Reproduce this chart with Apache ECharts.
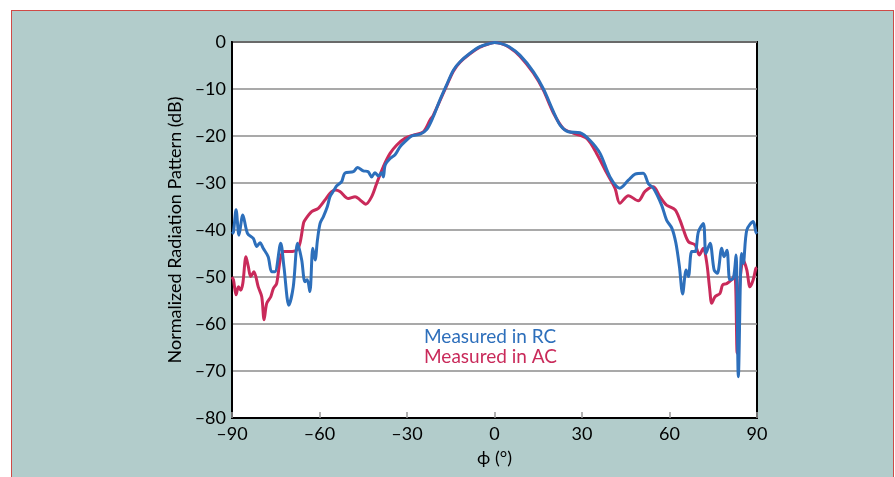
<!DOCTYPE html>
<html>
<head>
<meta charset="utf-8">
<script src="https://cdn.jsdelivr.net/npm/echarts@6/dist/echarts.min.js"></script>
<style>
    html, body { margin: 0; padding: 0; background: #fff; }
    #panel {
        position: absolute; left: 11px; top: 10px; width: 881px; height: 480px;
        background: #b2cccb; border: 1px solid #cf4a47; border-bottom: none;
    }
    #main { position: absolute; left: 0; top: 0; width: 895px; height: 477px; }
</style>
</head>
<body>
<div id="panel"></div>
<div id="main"></div>
<script>
    // measured in reverberation chamber (RC): [phi, dB]
    var rcData = [
        [-90,-40.8],[-89.5,-40.4],[-88.6,-35.7],[-87.6,-41.1],[-86.3,-36.8],[-84.7,-40.7],
        [-82.7,-41.8],[-81.5,-43.5],[-80.4,-42.7],[-79.3,-43.9],[-77.6,-45.7],[-76.4,-48.9],
        [-75.3,-48.9],[-73.3,-42.8],[-72.2,-47.8],[-70.5,-56.0],[-69.0,-52.1],[-67.5,-42.8],
        [-66.1,-46.4],[-65.0,-51.0],[-64.2,-50.6],[-63.3,-53.1],[-62.3,-43.9],[-61.5,-46.4],
        [-60.7,-42.1],[-59.8,-38.6],[-58.7,-37.2],[-57.3,-35.0],[-56.4,-32.9],[-55.0,-31.5],
        [-54.1,-30.6],[-52.4,-29.7],[-51.3,-27.9],[-48.4,-27.6],[-47.0,-26.7],[-45.0,-27.4],
        [-43.3,-27.6],[-42.1,-28.7],[-41.0,-27.8],[-39.8,-28.5],[-38.7,-27.8],[-38.1,-28.7],
        [-37.5,-26.2],[-35.8,-24.8],[-34.1,-24.0],[-32.4,-22.3],[-30.7,-21.2],[-28.4,-20.0],
        [-25.5,-19.6],[-23.2,-18.6],[-21.0,-15.9],[-18.7,-12.3],[-16.4,-9.1],[-14.1,-6.0],
        [-11.8,-4.2],[-8.4,-2.4],[-5.0,-1.0],[-1.5,-0.3],[0,-0.1],[2,-0.3],[5,-1.0],
        [8.7,-2.8],[13.3,-6.3],[16.7,-9.9],[20.2,-14.8],[22.5,-17.7],[25.3,-19.1],
        [29.3,-19.3],[32.7,-20.9],[36.2,-23.7],[39.6,-28.7],[43.0,-31.1],[45.9,-29.4],
        [48.2,-28.1],[51.0,-27.9],[52.8,-30.2],[54.5,-31.1],[57.3,-34.7],[59.0,-37.9],
        [60.8,-39.6],[62.2,-42.8],[63.4,-47.8],[64.5,-53.6],[65.7,-48.5],[66.5,-49.9],
        [67.6,-44.6],[68.8,-44.6],[69.9,-40.4],[71.6,-38.6],[72.5,-45.0],[73.9,-42.8],
        [75.3,-48.5],[76.4,-49.2],[77.9,-43.9],[78.7,-45.7],[79.7,-44.3],[80.7,-50.6],
        [81.9,-50.3],[82.8,-45.3],[83.6,-71.2],[84.7,-45.0],[85.3,-47.1],[86.5,-40.0],
        [88.7,-38.2],[89.6,-40.4],[90,-40.8]
    ];
    // measured in anechoic chamber (AC): [phi, dB]
    var acData = [
        [-90,-50.0],[-89.5,-50.6],[-88.6,-53.8],[-87.8,-52.1],[-87.0,-52.8],[-86.3,-51.4],
        [-85.2,-45.7],[-84.4,-47.8],[-83.6,-49.9],[-82.5,-48.9],[-81.0,-52.1],[-79.8,-54.2],
        [-79.0,-59.1],[-78.1,-55.6],[-76.7,-54.2],[-75.8,-52.4],[-74.7,-51.4],[-73.5,-46.4],
        [-72.4,-44.6],[-70.1,-44.6],[-67.8,-44.3],[-66.7,-42.8],[-65.5,-38.6],[-65.0,-37.9],
        [-62.7,-36.1],[-60.4,-35.4],[-58.1,-33.6],[-56.4,-32.2],[-54.7,-31.5],[-53.0,-31.8],
        [-50.1,-33.3],[-47.8,-32.9],[-46.1,-33.6],[-44.1,-34.5],[-42.1,-32.9],[-40.4,-30.1],
        [-38.1,-26.5],[-35.8,-23.7],[-33.5,-21.9],[-30.7,-20.5],[-27.8,-19.8],[-24.4,-19.1],
        [-22.1,-16.6],[-21.0,-15.6],[-18.7,-12.5],[-16.4,-9.3],[-14.1,-6.2],[-11.8,-4.3],
        [-8.4,-2.5],[-5.0,-1.1],[-1.5,-0.3],[0,-0.1],[2,-0.3],[5,-1.1],[8.7,-3.0],
        [13.3,-6.6],[16.7,-10.2],[20.2,-15.1],[23.6,-18.4],[27.0,-19.4],[31.6,-20.5],
        [35.0,-23.7],[38.5,-27.9],[41.3,-31.1],[43.0,-34.3],[45.9,-32.7],[49.3,-33.8],
        [51.6,-31.8],[54.5,-30.8],[56.7,-32.9],[59.0,-34.7],[61.9,-35.7],[63.6,-37.9],
        [64.8,-40.0],[66.5,-42.5],[68.8,-43.2],[70.2,-45.3],[71.6,-43.9],[72.8,-47.1],
        [73.7,-52.1],[74.5,-55.6],[75.6,-54.2],[77.3,-53.5],[78.2,-51.7],[79.6,-51.4],
        [81.3,-50.6],[82.4,-49.6],[83.2,-66.2],[84.1,-51.4],[85.3,-46.4],[86.5,-48.5],
        [87.6,-52.1],[88.7,-50.6],[89.6,-48.2],[90,-48.0]
    ];
    var seriesNames = ['Measured in RC', 'Measured in AC'];
    var seriesColors = ['#2d6fbb', '#c92a5a'];
    var fontName = 'Lato';

    function dash(v) { return String(v).replace('-', '\u2013'); }

    var myChart = echarts.init(document.getElementById('main'));
    myChart.setOption({
        backgroundColor: 'transparent',
        animation: false,
        textStyle: { fontFamily: fontName },
        grid: {
            left: 232, top: 42, width: 525, height: 376,
            show: true, backgroundColor: '#fff', borderColor: '#000', borderWidth: 2
        },
        legend: {
            left: 414, top: 322, orient: 'vertical', itemGap: 1,
            icon: 'none', itemWidth: 0, itemHeight: 10, selectedMode: false,
            data: [
                { name: seriesNames[0], textStyle: { color: seriesColors[0] } },
                { name: seriesNames[1], textStyle: { color: seriesColors[1] } }
            ],
            textStyle: { fontSize: 19, fontFamily: fontName }
        },
        xAxis: {
            type: 'value', min: -90, max: 90, interval: 30,
            name: '\u03d5 (\u00b0)', nameLocation: 'middle', nameGap: 31,
            nameTextStyle: { color: '#000', fontSize: 18, fontFamily: fontName },
            axisLine: { onZero: false, lineStyle: { color: '#000', width: 2 } },
            axisTick: { inside: true, length: 6, lineStyle: { color: '#999', width: 1.5 } },
            axisLabel: { color: '#000', fontSize: 18, margin: 7, formatter: dash },
            splitLine: { show: false }
        },
        yAxis: {
            type: 'value', min: -80, max: 0, interval: 10,
            name: 'Normalized Radiation Pattern (dB)', nameLocation: 'middle', nameGap: 47,
            nameTextStyle: { color: '#000', fontSize: 18, fontFamily: fontName },
            axisLine: { onZero: false, lineStyle: { color: '#000', width: 2 } },
            axisTick: { show: false },
            axisLabel: { color: '#000', fontSize: 18, margin: 6, formatter: dash },
            splitLine: { lineStyle: { color: '#8c8c8c', width: 1.5 } }
        },
        series: [
            {
                name: seriesNames[1], type: 'line', data: acData, showSymbol: false,
                smooth: 0.3, lineStyle: { color: seriesColors[1], width: 3 },
                itemStyle: { color: seriesColors[1] }
            },
            {
                name: seriesNames[0], type: 'line', data: rcData, showSymbol: false,
                smooth: 0.3, lineStyle: { color: seriesColors[0], width: 3 },
                itemStyle: { color: seriesColors[0] }
            }
        ]
    });
</script>
</body>
</html>
